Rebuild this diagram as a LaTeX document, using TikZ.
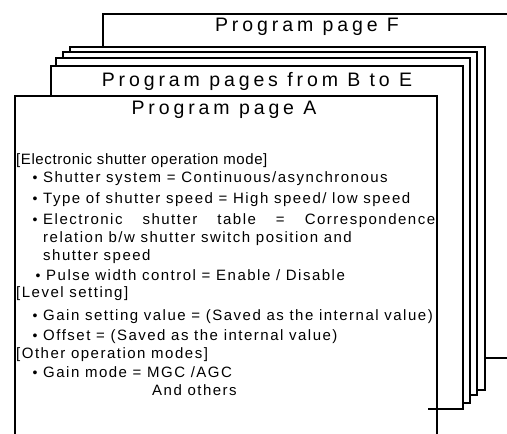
\documentclass[tikz,border=0pt]{standalone}
\usepackage{fontspec}
\setmainfont{Liberation Sans}
\newfontfamily\titlefont[LetterSpace=20]{Liberation Sans}
\newfontfamily\bodyfont[LetterSpace=10]{Liberation Sans}
\newfontfamily\tightfont[LetterSpace=4]{Liberation Sans}
\usetikzlibrary{positioning}

\tikzset{
    page/.style={draw=black, fill=white, line width=1.5pt},
    pagetitle/.style={font=\titlefont\fontsize{19.5}{22}\selectfont, inner sep=0pt},
    txt/.style={font=\bodyfont\fontsize{15}{17}\selectfont, anchor=base west, inner sep=0pt},
    dot/.style={font=\fontsize{14}{16}\selectfont, anchor=base, inner sep=0pt}
}

\begin{document}
\begin{tikzpicture}[x=1pt, y=-1pt]
    \useasboundingbox (0,0) rectangle (507,434);
    \clip (0,0) rectangle (507,434);

    % the pages, from the back to the front
    \filldraw[page] (103,14) rectangle (520,358);
    \filldraw[page] (70,47) rectangle (485,390);
    \filldraw[page] (63,52) rectangle (477,395);
    \filldraw[page] (56,58) rectangle (470,403);
    \filldraw[page] (51,66) rectangle (463,409);
    \filldraw[page, line width=2pt] (15,96) rectangle (437,450);
    \draw[line width=1.5pt] (437,409) -- (428,409);

    % the titles
    \node[pagetitle] (titleF) at (307,27) {Program page F};
    \node[pagetitle] (titleBE) at (257,81) {Program pages from B to E};
    \node[pagetitle] (titleA) at (224,110) {Program page A};

    % the contents of page A
    \node[txt, font=\tightfont\fontsize{15}{17}\selectfont] (shutmode) at (16,164) {[Electronic shutter operation mode]};
    \node[dot] (b1) at (35,182) {\textbullet};
    \node[txt] (shutsys) at (43,182) {Shutter system = Continuous/asynchronous};
    \node[dot] (b2) at (35,203) {\textbullet};
    \node[txt] (shuttype) at (43,203) {Type of shutter speed = High speed/ low speed};
    \node[dot] (b3) at (35,224) {\textbullet};
    \node[txt] (shuttab) at (43,224) {\makebox[392pt][s]{Electronic shutter table = Correspondence}};
    \node[txt] (shuttab2) at (43,242) {relation b/w shutter switch position and};
    \node[txt] (shuttab3) at (43,260) {shutter speed};
    \node[dot] (b4) at (38,280) {\textbullet};
    \node[txt] (pulse) at (46,280) {Pulse width control = Enable / Disable};

    \node[txt] (level) at (16,297) {[Level setting]};
    \node[dot] (b5) at (35,320) {\textbullet};
    \node[txt] (gainset) at (43,320) {Gain setting value = (Saved as the internal value)};
    \node[dot] (b6) at (35,340) {\textbullet};
    \node[txt] (offset) at (43,340) {Offset = (Saved as the internal value)};

    \node[txt] (othermode) at (16,358) {[Other operation modes]};
    \node[dot] (b7) at (35,377) {\textbullet};
    \node[txt] (gainmode) at (43,377) {Gain mode = MGC /AGC};
    \node[txt] (others) at (152,395) {And others};

\end{tikzpicture}
\end{document}
